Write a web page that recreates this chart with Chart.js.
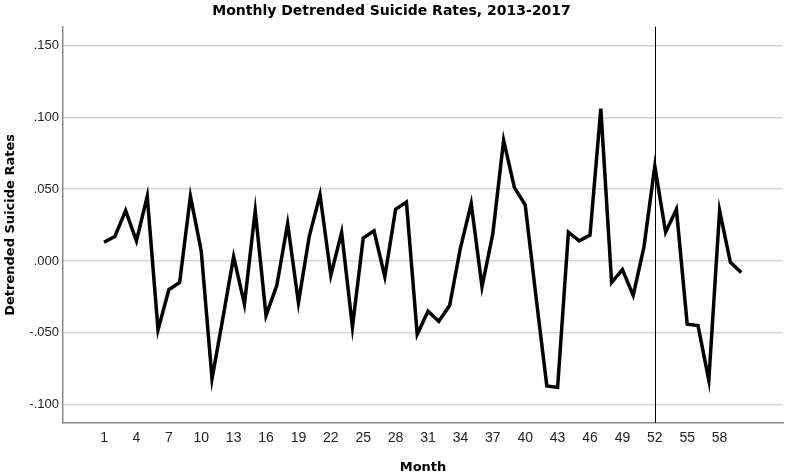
<!DOCTYPE html>
<html>
<head>
<meta charset="utf-8">
<script src="https://cdn.jsdelivr.net/npm/chart.js@4/dist/chart.umd.min.js"></script>
<style>
  html, body { margin: 0; padding: 0; background: #fff; }
  #wrap { width: 786px; height: 476px; }
</style>
</head>
<body>
<div id="wrap"><canvas id="c" width="786" height="476"></canvas></div>
<script>
const chartTitle = 'Monthly Detrended Suicide Rates, 2013-2017';
const xTitle = 'Month';
const yTitle = 'Detrended Suicide Rates';

const months = [1,2,3,4,5,6,7,8,9,10,11,12,13,14,15,16,17,18,19,20,
  21,22,23,24,25,26,27,28,29,30,31,32,33,34,35,36,37,38,39,40,
  41,42,43,44,45,46,47,48,49,50,51,52,53,54,55,56,57,58,59,60];

const detrendedRates = [
  0.013, 0.017, 0.035, 0.014, 0.045, -0.048, -0.020, -0.015, 0.045, 0.007,
  -0.082, -0.040, 0.003, -0.030, 0.035, -0.038, -0.017, 0.026, -0.029, 0.017,
  0.046, -0.010, 0.020, -0.046, 0.016, 0.021, -0.011, 0.036, 0.041, -0.051,
  -0.035, -0.042, -0.031, 0.009, 0.040, -0.018, 0.019, 0.084, 0.051, 0.039,
  -0.025, -0.087, -0.088, 0.020, 0.014, 0.018, 0.106, -0.015, -0.006, -0.024,
  0.010, 0.066, 0.020, 0.036, -0.044, -0.045, -0.083, 0.035, -0.001, -0.008
];

const xTickValues = [1,4,7,10,13,16,19,22,25,28,31,34,37,40,43,46,49,52,55,58];
const yTickValues = [-0.100, -0.050, 0.000, 0.050, 0.100, 0.150];
const referenceMonth = 52;

const TICK_FONT = '"Liberation Sans", Arial, sans-serif';
const TITLE_FONT = '"DejaVu Sans", "Liberation Sans", sans-serif';

const refLinePlugin = {
  id: 'refLine',
  beforeDatasetsDraw(chart) {
    const xs = chart.scales.x;
    const area = chart.chartArea;
    const px = Math.round(xs.getPixelForValue(referenceMonth)) + 0.5;
    const ctx = chart.ctx;
    ctx.save();
    ctx.strokeStyle = '#000';
    ctx.lineWidth = 1;
    ctx.beginPath();
    ctx.moveTo(px, area.top);
    ctx.lineTo(px, area.bottom);
    ctx.stroke();
    ctx.restore();
  }
};

new Chart(document.getElementById('c'), {
  type: 'line',
  data: {
    datasets: [{
      data: months.map((m, i) => ({ x: m, y: detrendedRates[i] })),
      borderColor: '#000',
      borderWidth: 3.5,
      pointRadius: 0,
      tension: 0,
      borderJoinStyle: 'miter',
      borderCapStyle: 'butt',
      fill: false
    }]
  },
  options: {
    responsive: false,
    animation: false,
    devicePixelRatio: 1,
    layout: { padding: { left: 0, right: 3, top: 0, bottom: 0 } },
    plugins: {
      legend: { display: false },
      tooltip: { enabled: false },
      title: {
        display: true,
        text: chartTitle,
        color: '#000',
        font: { family: TITLE_FONT, size: 14, weight: 'bold', lineHeight: 1.2 },
        padding: { top: 3, bottom: 7 }
      }
    },
    scales: {
      x: {
        type: 'linear',
        min: -2.8,
        max: 63.87,
        afterBuildTicks(scale) { scale.ticks = xTickValues.map(v => ({ value: v })); },
        afterFit(scale) { scale.height = 53; },
        grid: { display: false, drawTicks: false },
        border: { display: true, color: '#8a8a8a', width: 1.5 },
        ticks: {
          color: '#222',
          font: { family: TICK_FONT, size: 14 },
          padding: 7,
          maxRotation: 0,
          autoSkip: false,
          callback: v => String(v)
        },
        title: {
          display: true,
          text: xTitle,
          color: '#000',
          font: { family: TITLE_FONT, size: 13, weight: 'bold', lineHeight: 1.2 },
          padding: { top: 0, bottom: 1 }
        }
      },
      y: {
        type: 'linear',
        min: -0.1128,
        max: 0.163,
        afterBuildTicks(scale) { scale.ticks = yTickValues.map(v => ({ value: v })); },
        afterFit(scale) { scale.width = 63; },
        grid: { color: '#d6d6d6', lineWidth: 1.5, drawTicks: false },
        border: { display: true, color: '#8a8a8a', width: 1.5 },
        ticks: {
          color: '#222',
          font: { family: TICK_FONT, size: 13 },
          padding: 4,
          callback: v => v.toFixed(3).replace('0.', '.')
        },
        title: {
          display: true,
          text: yTitle,
          color: '#000',
          font: { family: TITLE_FONT, size: 13, weight: 'bold', lineHeight: 1.2 },
          padding: { top: 3, bottom: 0 }
        }
      }
    }
  },
  plugins: [refLinePlugin]
});
</script>
</body>
</html>
